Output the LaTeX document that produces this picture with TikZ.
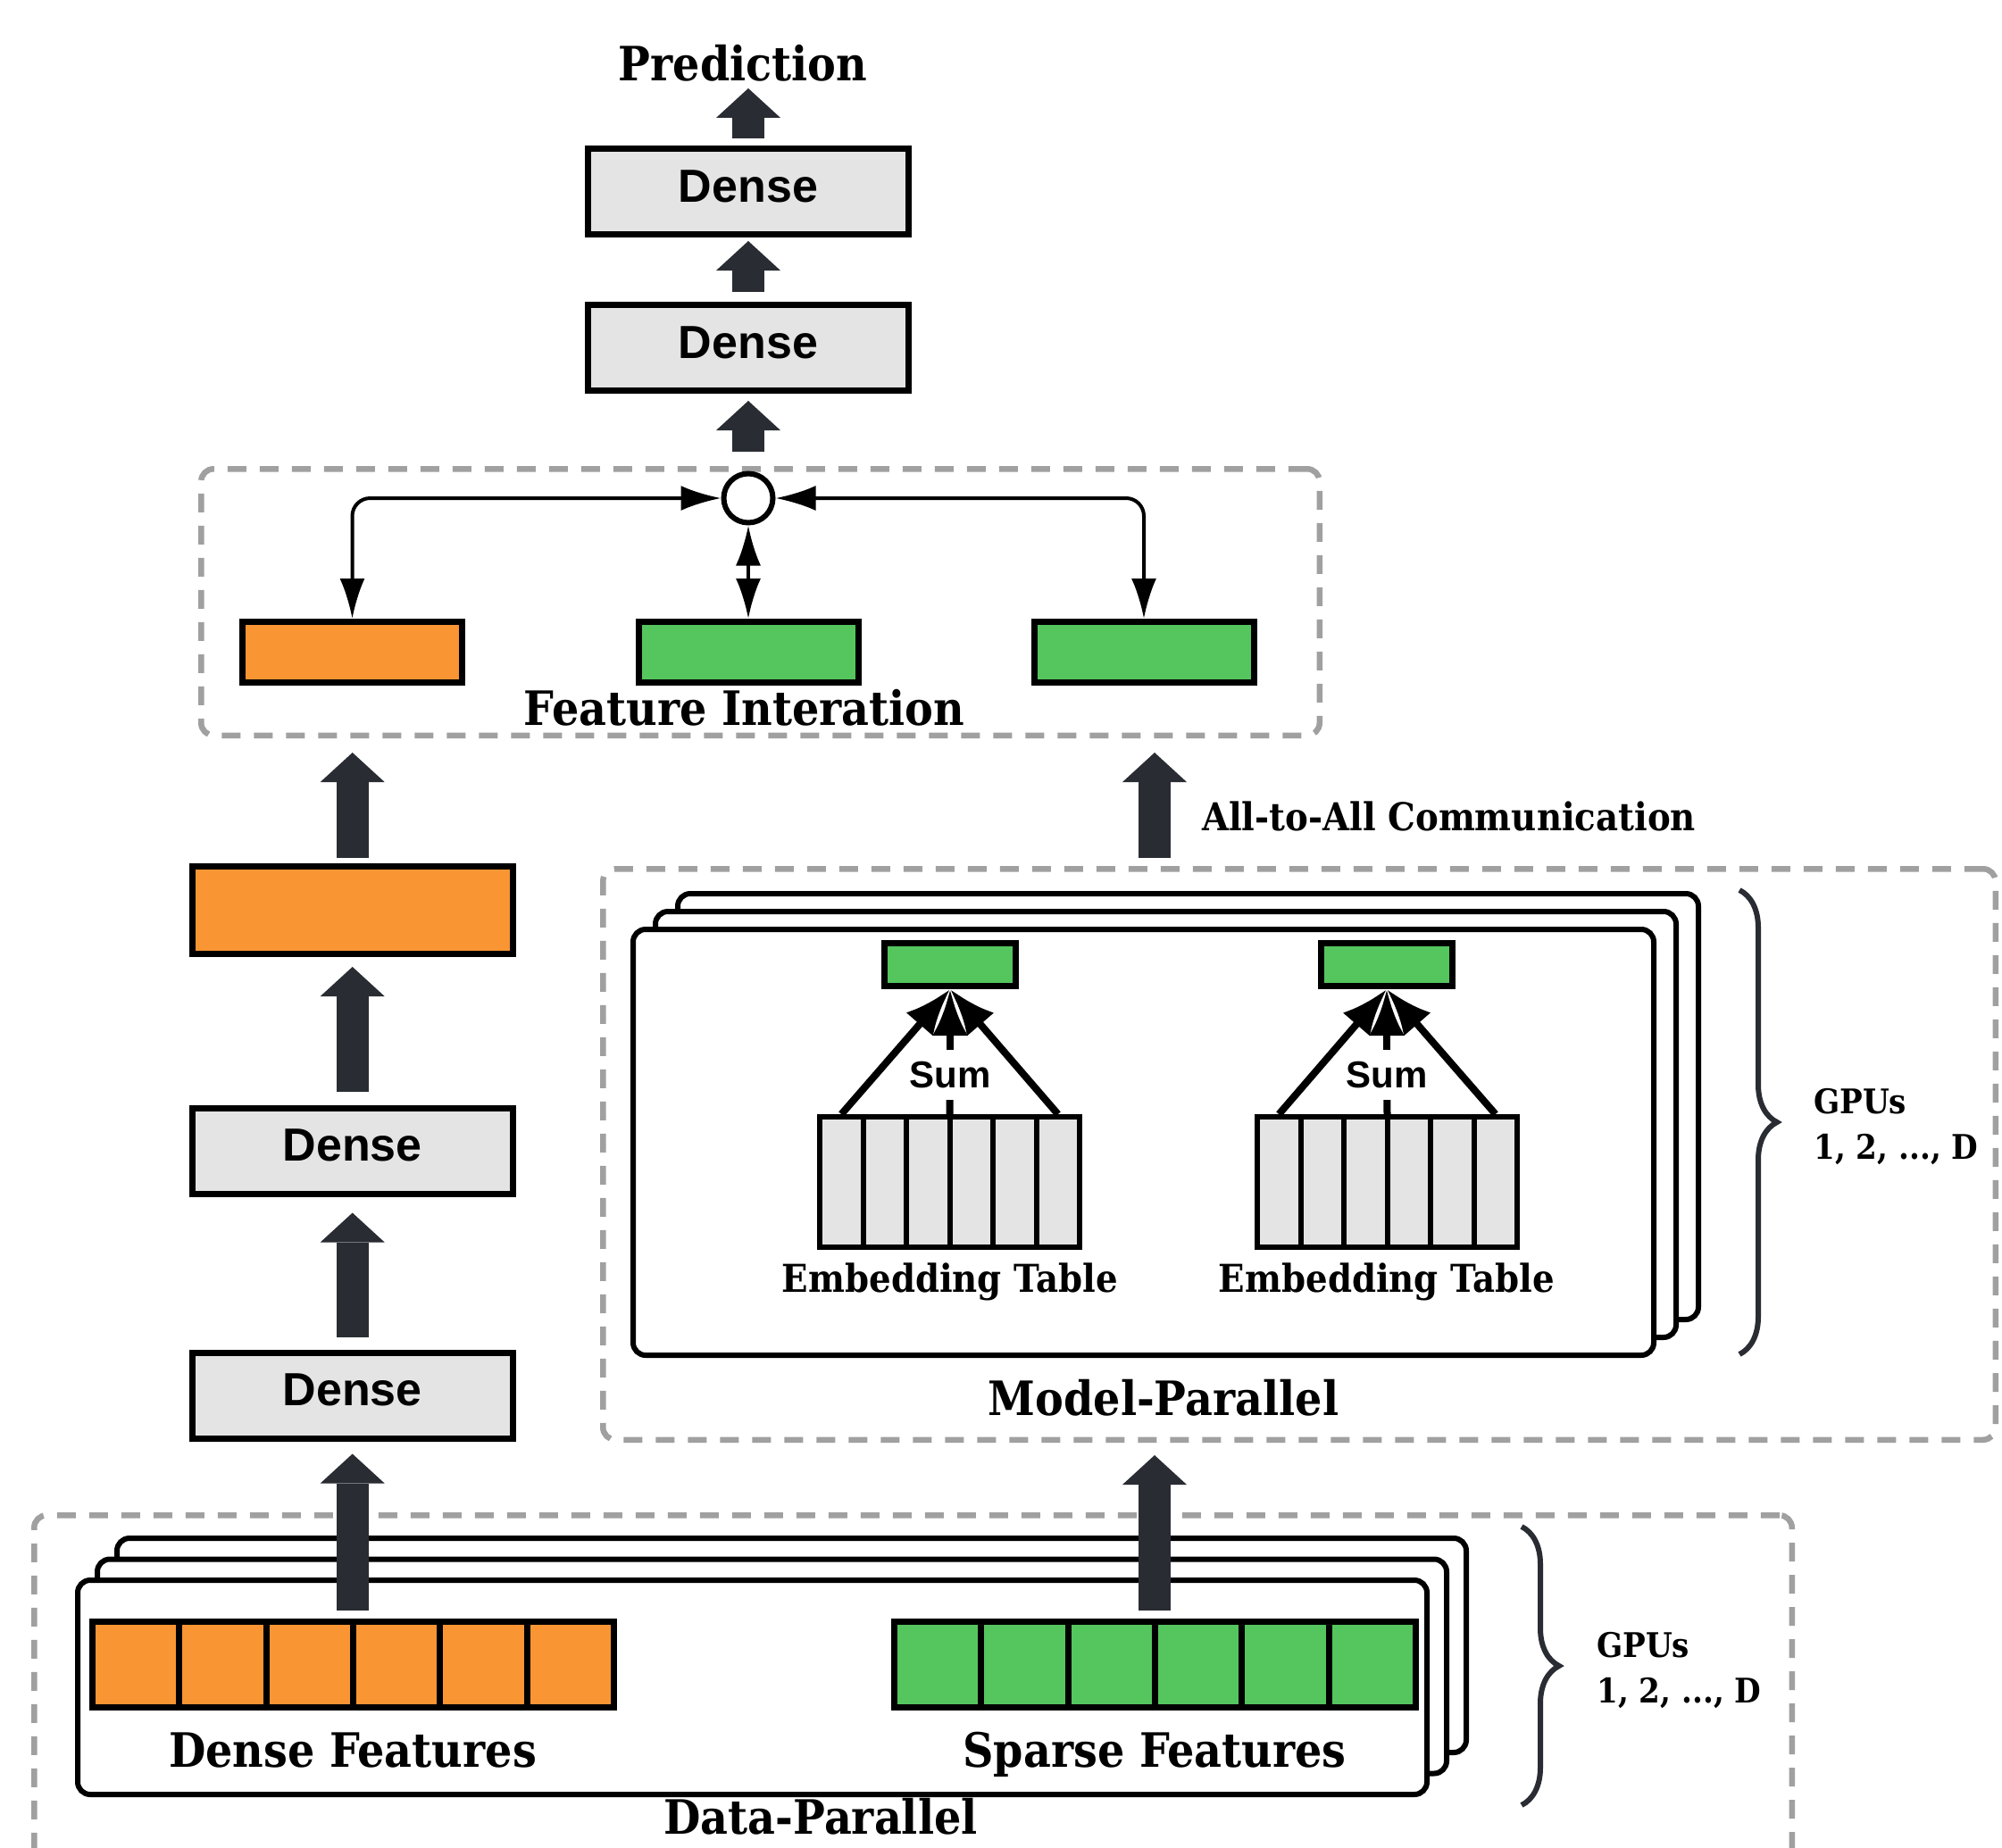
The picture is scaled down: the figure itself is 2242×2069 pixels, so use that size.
\documentclass[tikz,border=0pt]{standalone}
\usepackage{fontspec}
\setmainfont{DejaVu Serif}[FakeStretch=0.9]
\setsansfont{Liberation Sans}
\usetikzlibrary{arrows.meta,calc,decorations.pathreplacing,positioning}

\definecolor{featorange}{HTML}{F99533}
\definecolor{featgreen}{HTML}{55C55E}
\definecolor{layerfill}{HTML}{E4E4E4}
\definecolor{arrowfill}{HTML}{292D33}
\definecolor{groupline}{HTML}{A0A0A0}

\tikzstyle{every node}+=[inner sep=0pt]
\tikzstyle{layer}=[draw,line width=7pt,fill=layerfill,minimum width=359pt,minimum height=96pt,text depth=12pt,font=\sffamily\bfseries\fontsize{52}{60}\selectfont]
\tikzstyle{featbar}=[draw,line width=7pt,minimum width=246pt,minimum height=68pt]
\tikzstyle{fcell}=[draw,line width=7pt,minimum width=97.3pt,minimum height=96pt,node distance=97.3pt]
\tikzstyle{ecell}=[draw,line width=6pt,fill=layerfill,minimum width=48.5pt,minimum height=146pt,node distance=48.5pt]
\tikzstyle{embout}=[draw,line width=7pt,fill=featgreen,minimum width=147pt,minimum height=48pt]
\tikzstyle{card}=[draw,line width=6pt,fill=white,rounded corners=14pt]
\tikzstyle{groupbox}=[draw=groupline,line width=6.5pt,dash pattern=on 21pt off 15pt,rounded corners=14pt]
\tikzstyle{biglabel}=[font=\bfseries\fontsize{53}{60}\selectfont]
\tikzstyle{midlabel}=[font=\bfseries\fontsize{43}{50}\selectfont]
\tikzstyle{sumlabel}=[font=\sffamily\bfseries\fontsize{42}{48}\selectfont,inner xsep=4pt,inner ysep=13pt]
\tikzstyle{gpulabel}=[font=\bfseries\fontsize{38}{51}\selectfont,align=left,anchor=west]
\tikzstyle{fatarrow}=[arrowfill,line width=36pt,-{Triangle[length=33pt,width=72pt,line width=0pt]}]
\tikzstyle{interarrow}=[line width=4pt,rounded corners=20pt,{Latex[length=45pt,width=28pt]}-{Latex[length=45pt,width=28pt]}]
\tikzstyle{sumarrow}=[line width=8pt,-{Latex[length=52pt,width=40pt]}]
\tikzstyle{gpubrace}=[arrowfill,line width=6pt,decorate,decoration={brace,amplitude=42pt}]

\newcommand{\fatarrows}[1]{
	\foreach \a/\b/\x/\s/\e in {#1}{
		\draw[fatarrow,shorten <=\s pt,shorten >=\e pt] (\x |- \a.north) -- (\x |- \b.south);
	}
}

\begin{document}
\begin{tikzpicture}[x=1pt,y=-1pt]
\path[use as bounding box,fill=white] (0,0) rectangle (2242,2069);

% top mlp
\node[biglabel,anchor=base] (pred) at (832,90) {Prediction};
\node[layer] (dtop) at (838,214.5) {Dense};
\node[layer] (dmid) at (838,389.5) {Dense};

% feature interaction
\node[groupbox,minimum width=1252.5pt,minimum height=298.5pt] (fi) at (851.5,674.5) {};
\node[featbar,fill=featorange] (o1) at (394.5,730.5) {};
\node[featbar,fill=featgreen] (g1) at (838,730.5) {};
\node[featbar,fill=featgreen] (g2) at (1281,730.5) {};
\node[draw,circle,line width=6pt,fill=white,minimum size=55pt] (circ) at (838,558) {};
\draw[interarrow] (circ.west) -| (o1.north);
\draw[interarrow] (circ.south) -- (g1.north);
\draw[interarrow] (circ.east) -| (g2.north);
\node[biglabel,anchor=base] (filabel) at (833.5,812) {Feature Interation};

% bottom mlp
\node[featbar,fill=featorange,minimum width=359pt,minimum height=98pt] (obar) at (394.7,1019.5) {};
\node[layer] (dl2) at (394.7,1289) {Dense};
\node[layer] (dl1) at (394.7,1563) {Dense};

% model-parallel
\node[groupbox,minimum width=1559.5pt,minimum height=639.5pt] (mp) at (1455,1293) {};
\foreach \i/\dx/\dy in {3/50/-40,2/25/-20,1/0/0}
	\node[card,minimum width=1143pt,minimum height=477pt] (mpcard\i) at ({1280.5+\dx},{1279.5+\dy}) {};
\foreach \t/\x/\c in {a/942.25/1064,b/1432.25/1553}{
	\node[ecell] (e\t1) at (\x,1324) {};
	\foreach \i [remember=\i as \j (initially 1)] in {2,...,6}
		\node[ecell,right of=e\t\j] (e\t\i) {};
	\node[embout] (eg\t) at (\c,1080.5) {};
	\node[sumlabel] (sum\t) at (\c,1204) {Sum};
	\node[midlabel,anchor=base] (et\t) at (\c,1447) {Embedding Table};
	\draw[sumarrow] (e\t1.north) -- (eg\t.south);
	\draw[sumarrow] (e\t6.north) -- (eg\t.south);
	\draw[line width=8pt] ($(e\t3.north)!0.5!(e\t4.north)$) -- (sum\t);
	\draw[sumarrow] (sum\t) -- (eg\t.south);
}
\node[biglabel,anchor=base] (mplabel) at (1303,1585) {Model-Parallel};
\node[midlabel,anchor=base west] (a2a) at (1346,930) {All-to-All Communication};
\draw[gpubrace] (1948,997) -- (1948,1517);
\node[gpulabel] (mpgpus) at (2031,1262) {GPUs\\1, 2, ..., D};

% data-parallel
\node[groupbox,minimum width=1968.5pt,minimum height=449.5pt] (dp) at (1022.5,1922) {};
\foreach \i/\dx/\dy in {3/44/-47,2/22/-23.5,1/0/0}
	\node[card,minimum width=1511pt,minimum height=240pt] (dpcard\i) at ({842.5+\dx},{1890+\dy}) {};
\foreach \t/\x/\f in {d/152.2/featorange,s/1050.2/featgreen}{
	\node[fcell,fill=\f] (\t f1) at (\x,1864.5) {};
	\foreach \i [remember=\i as \j (initially 1)] in {2,...,6}
		\node[fcell,fill=\f,right of=\t f\j] (\t f\i) {};
}
\node[biglabel,anchor=base] (dflabel) at (395,1979) {Dense Features};
\node[biglabel,anchor=base] (sflabel) at (1293,1979) {Sparse Features};
\node[biglabel,anchor=base] (dplabel) at (919,2054) {Data-Parallel};
\draw[gpubrace] (1704,1710) -- (1704,2022);
\node[gpulabel] (dpgpus) at (1788,1871) {GPUs\\1, 2, ..., D};

% block arrows
\fatarrows{dtop/pred/dtop/8/8, dmid/dtop/dtop/11/4, fi/dmid/dmid/16/8, obar/fi/obar/6/16, dl2/obar/obar/15/11, dl1/dl2/dl2/14/18, df1/dl1/dl1/9/14, mp/fi/sflabel/9/16, sf1/mp/sflabel/9/14}
\end{tikzpicture}
\end{document}
